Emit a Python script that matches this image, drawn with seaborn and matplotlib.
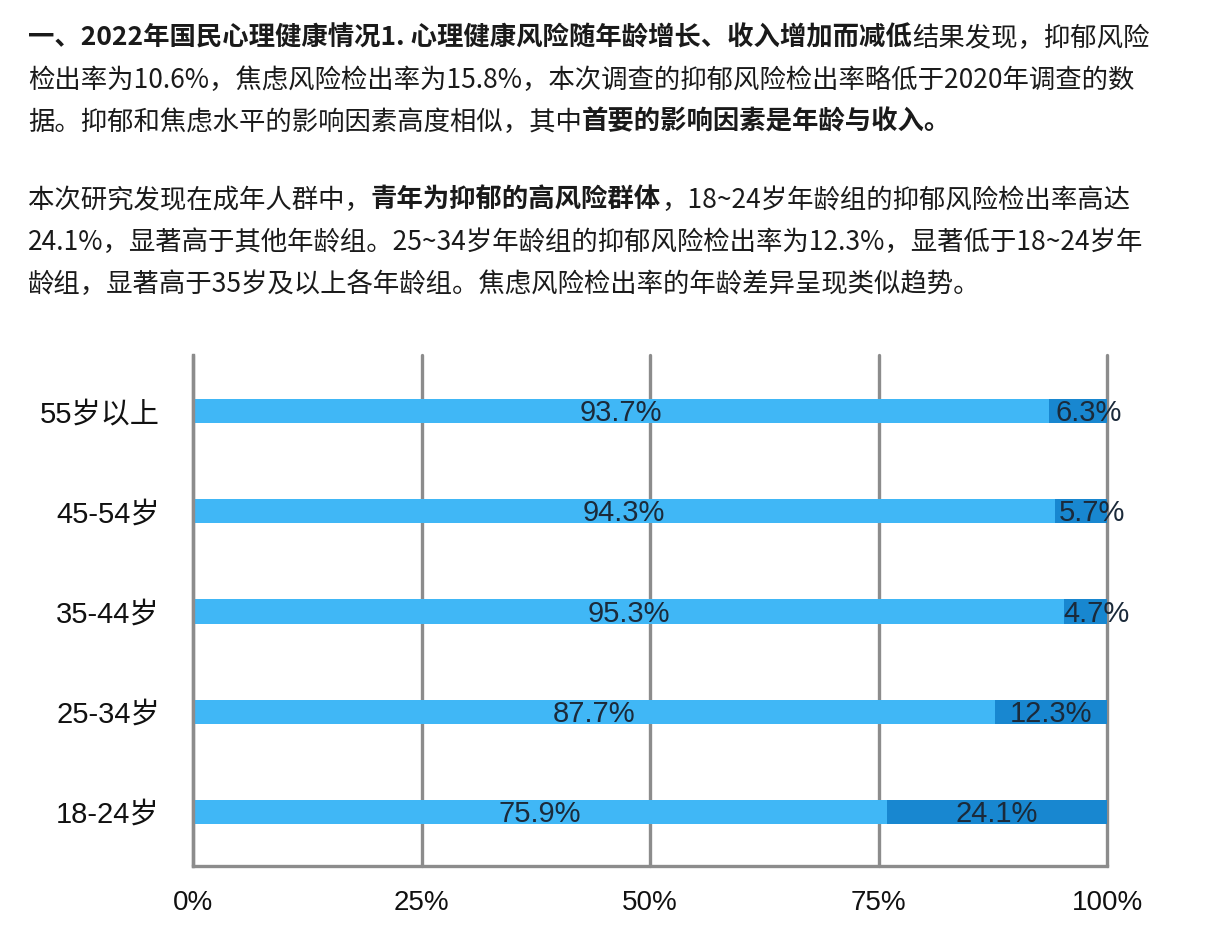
import matplotlib
matplotlib.use("Agg")
import matplotlib.pyplot as plt
import seaborn as sns
import pandas as pd

# ---------------- data ----------------
categories = ["55岁以上", "45-54岁", "35-44岁", "25-34岁", "18-24岁"]
no_risk = [93.7, 94.3, 95.3, 87.7, 75.9]
risk = [6.3, 5.7, 4.7, 12.3, 24.1]
xticks = [0, 25, 50, 75, 100]
xtick_labels = ["0%", "25%", "50%", "75%", "100%"]

para_lines = [
    [("一、2022年国民心理健康情况1. 心理健康风险随年龄增长、收入增加而减低", True), ("结果发现，抑郁风险", False)],
    [("检出率为10.6%，焦虑风险检出率为15.8%，本次调查的抑郁风险检出率略低于2020年调查的数", False)],
    [("据。抑郁和焦虑水平的影响因素高度相似，其中", False), ("首要的影响因素是年龄与收入。", True)],
    [("本次研究发现在成年人群中，", False), ("青年为抑郁的高风险群体", True), ("，18~24岁年龄组的抑郁风险检出率高达", False)],
    [("24.1%，显著高于其他年龄组。25~34岁年龄组的抑郁风险检出率为12.3%，显著低于18~24岁年", False)],
    [("龄组，显著高于35岁及以上各年龄组。焦虑风险检出率的年龄差异呈现类似趋势。", False)],
]
line_y_px = [38, 80, 122, 200, 242, 284]

# ---------------- style ----------------
sns.set_theme(style="white")
plt.rcParams["font.family"] = ["Noto Sans CJK SC", "DejaVu Sans"]

light = "#40b7f6"
dark = "#1887d0"
grid_gray = "#8c8c8c"
label_color = "#1b2a3a"
chart_font = ["Liberation Sans", "Noto Sans CJK SC"]

W, H = 1206, 941
fig = plt.figure(figsize=(W / 100, H / 100), dpi=100)
fig.patch.set_facecolor("white")

# ---------------- paragraph text ----------------
renderer = fig.canvas.get_renderer()
text_size = 19.0
for runs, ypx in zip(para_lines, line_y_px):
    x = 28
    for s, bold in runs:
        t = fig.text(x / W, 1 - ypx / H, s, fontsize=text_size,
                     fontweight="bold" if bold else "normal",
                     color="#1a1a1a", va="center", ha="left",
                     family=["Noto Sans CJK SC", "DejaVu Sans"])
        bb = t.get_window_extent(renderer=renderer)
        x = bb.x1

# ---------------- chart ----------------
df = pd.DataFrame({"age": categories, "low": no_risk, "high": risk})
df["total"] = df["low"] + df["high"]

ax = fig.add_axes([193 / W, 75 / H, 914 / W, 511 / H])
sns.barplot(data=df, y="age", x="total", color=dark, width=0.24,
            saturation=1, orient="h", ax=ax, zorder=3, linewidth=0, edgecolor="none")
sns.barplot(data=df, y="age", x="low", color=light, width=0.24,
            saturation=1, orient="h", ax=ax, zorder=3, linewidth=0, edgecolor="none")

ax.set_xlim(0, 100)
ax.set_ylim(4.54, -0.56)
ax.set_xlabel("")
ax.set_ylabel("")
ax.set_xticks(xticks)
ax.set_xticklabels(xtick_labels, family=chart_font, fontsize=20, color="#111111")
ax.set_yticks(range(len(categories)))
ax.set_yticklabels(categories, family=chart_font, fontsize=21, color="#111111")
ax.tick_params(axis="y", length=0, pad=24)
ax.tick_params(axis="x", length=7, width=2.2, color=grid_gray, pad=10, direction="out")

ax.set_axisbelow(True)
ax.xaxis.grid(True, color=grid_gray, linewidth=2.4)
ax.yaxis.grid(False)
for gl in ax.get_xgridlines():
    gl.set_clip_on(False)
for side in ["top", "right"]:
    ax.spines[side].set_visible(False)
for side in ["left", "bottom"]:
    ax.spines[side].set_color(grid_gray)
    ax.spines[side].set_linewidth(2.4)
    ax.spines[side].set_zorder(4)

for i, (lo, hi) in enumerate(zip(no_risk, risk)):
    ax.text(lo / 2, i + 0.02, f"{lo}%", ha="center", va="center",
            fontsize=21, color=label_color, family=chart_font, zorder=5)
    ax.text(lo + hi / 2 + (1.2 if hi < 8 else 0), i + 0.02, f"{hi}%", ha="center", va="center",
            fontsize=21, color=label_color, family=chart_font, zorder=5)

fig.savefig("out.png", dpi=100, facecolor="white")
